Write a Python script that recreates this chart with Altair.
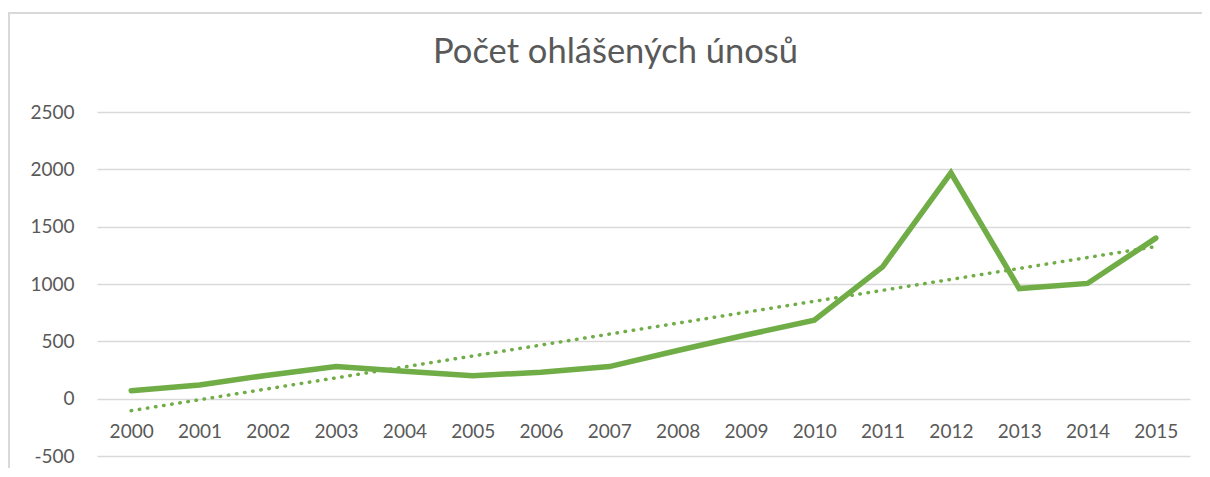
import altair as alt
import pandas as pd

years = list(range(2000, 2016))
values = [70, 120, 205, 280, 240, 200, 230, 280, 420, 555, 685, 1150, 1970, 960, 1005, 1400]
y_ticks = [-500, 0, 500, 1000, 1500, 2000, 2500]
title_text = "Počet ohlášených únosů"

df = pd.DataFrame({"year": years, "value": values})

GREEN = "#70ad47"
GRID = "#d9d9d9"
TEXT = "#595959"
FONT = "Lato"

x_enc = alt.X(
    "year:Q",
    scale=alt.Scale(domain=[1999.5, 2015.5], nice=False, zero=False),
    axis=alt.Axis(
        values=years, labelExpr="datum.value + ''", grid=False, domain=False, ticks=False,
        labelFont=FONT, labelFontSize=19, labelColor=TEXT,
        offset=-57.33, labelPadding=24, title=None, labelFlush=False,
    ),
)
y_enc = alt.Y(
    "value:Q",
    scale=alt.Scale(domain=[-500, 2500], nice=False),
    axis=alt.Axis(
        values=y_ticks, labelExpr="datum.value + ''", grid=True, gridColor=GRID, gridWidth=1.6,
        domain=False, ticks=False, labelFont=FONT, labelFontSize=19,
        labelColor=TEXT, labelPadding=23, title=None,
    ),
)

base = alt.Chart(df)

line = base.mark_line(color=GREEN, strokeWidth=5.5, strokeCap="round").encode(x=x_enc, y=y_enc)

trend = base.transform_regression("year", "value", method="linear").mark_line(
    color=GREEN, strokeWidth=3.5, strokeDash=[0.5, 7.7], strokeCap="round"
).encode(x="year:Q", y="value:Q")

border = alt.Chart(alt.Data(values=[{"f": 1}])).mark_rect(
    fill=None, fillOpacity=0, stroke=GRID, strokeWidth=2
).encode(
    x=alt.value(-88), x2=alt.value(1140), y=alt.value(-99), y2=alt.value(420)
)

chart = alt.layer(border, trend, line).properties(
    width=1093,
    height=344,
    padding={"left": 89, "top": 104, "right": 12, "bottom": 12},
    autosize=alt.AutoSizeParams(type="none"),
    title=alt.TitleParams(
        title_text, font=FONT, fontSize=34.5, fontWeight="normal", color=TEXT,
        anchor="middle", dx=-28, offset=0, baseline="bottom", dy=92,
    ),
).configure(background="white", view=alt.ViewConfig(stroke=None))

chart.save("out.html", embed_options={"renderer": "svg", "actions": False})
